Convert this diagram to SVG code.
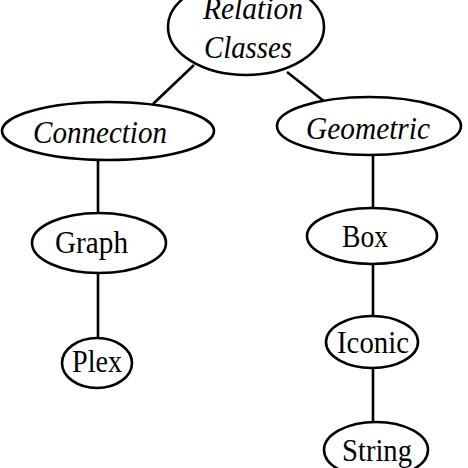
<svg xmlns="http://www.w3.org/2000/svg" width="468" height="468" viewBox="0 0 468 468">
<style>
.n ellipse{fill:#fff;stroke:#000;stroke-width:2.6}
.n text{font-family:"Liberation Serif","Times New Roman",serif;font-size:31px;fill:#000}
.it text{font-style:italic}
#edges line{stroke:#000;stroke-width:2.6}
</style>
<rect width="468" height="468" fill="#fff"/>
<g id="edges">
<line x1="194" y1="65" x2="153" y2="104"/>
<line x1="287" y1="72" x2="325" y2="102"/>
<line x1="98" y1="159" x2="98" y2="214"/>
<line x1="98" y1="272" x2="98" y2="339"/>
<line x1="373" y1="154" x2="373" y2="209"/>
<line x1="373" y1="263" x2="373" y2="317"/>
<line x1="373" y1="367" x2="373" y2="423"/>
</g>
<g id="relation" class="n it">
<ellipse cx="246" cy="27" rx="78" ry="48"/>
<text x="203" y="19" textLength="100" lengthAdjust="spacingAndGlyphs">Relation</text>
<text x="204" y="58" textLength="88" lengthAdjust="spacingAndGlyphs">Classes</text>
</g>
<g id="connection" class="n it">
<ellipse cx="108" cy="131" rx="106" ry="29"/>
<text x="33" y="143" textLength="134" lengthAdjust="spacingAndGlyphs">Connection</text>
</g>
<g id="geometric" class="n it">
<ellipse cx="369" cy="126" rx="92" ry="29"/>
<text x="306" y="139" textLength="124" lengthAdjust="spacingAndGlyphs">Geometric</text>
</g>
<g id="graph" class="n">
<ellipse cx="99" cy="243" rx="67" ry="30"/>
<text x="55" y="253" textLength="73" lengthAdjust="spacingAndGlyphs">Graph</text>
</g>
<g id="plex" class="n">
<ellipse cx="97" cy="363" rx="35" ry="25"/>
<text x="72" y="372" textLength="50" lengthAdjust="spacingAndGlyphs">Plex</text>
</g>
<g id="box" class="n">
<ellipse cx="372" cy="236" rx="65" ry="28"/>
<text x="342" y="247" textLength="46" lengthAdjust="spacingAndGlyphs">Box</text>
</g>
<g id="iconic" class="n">
<ellipse cx="372" cy="342" rx="46" ry="26"/>
<text x="337" y="353" textLength="72" lengthAdjust="spacingAndGlyphs">Iconic</text>
</g>
<g id="string" class="n">
<ellipse cx="376" cy="450" rx="52" ry="28"/>
<text x="342" y="461" textLength="70" lengthAdjust="spacingAndGlyphs">String</text>
</g>
</svg>
